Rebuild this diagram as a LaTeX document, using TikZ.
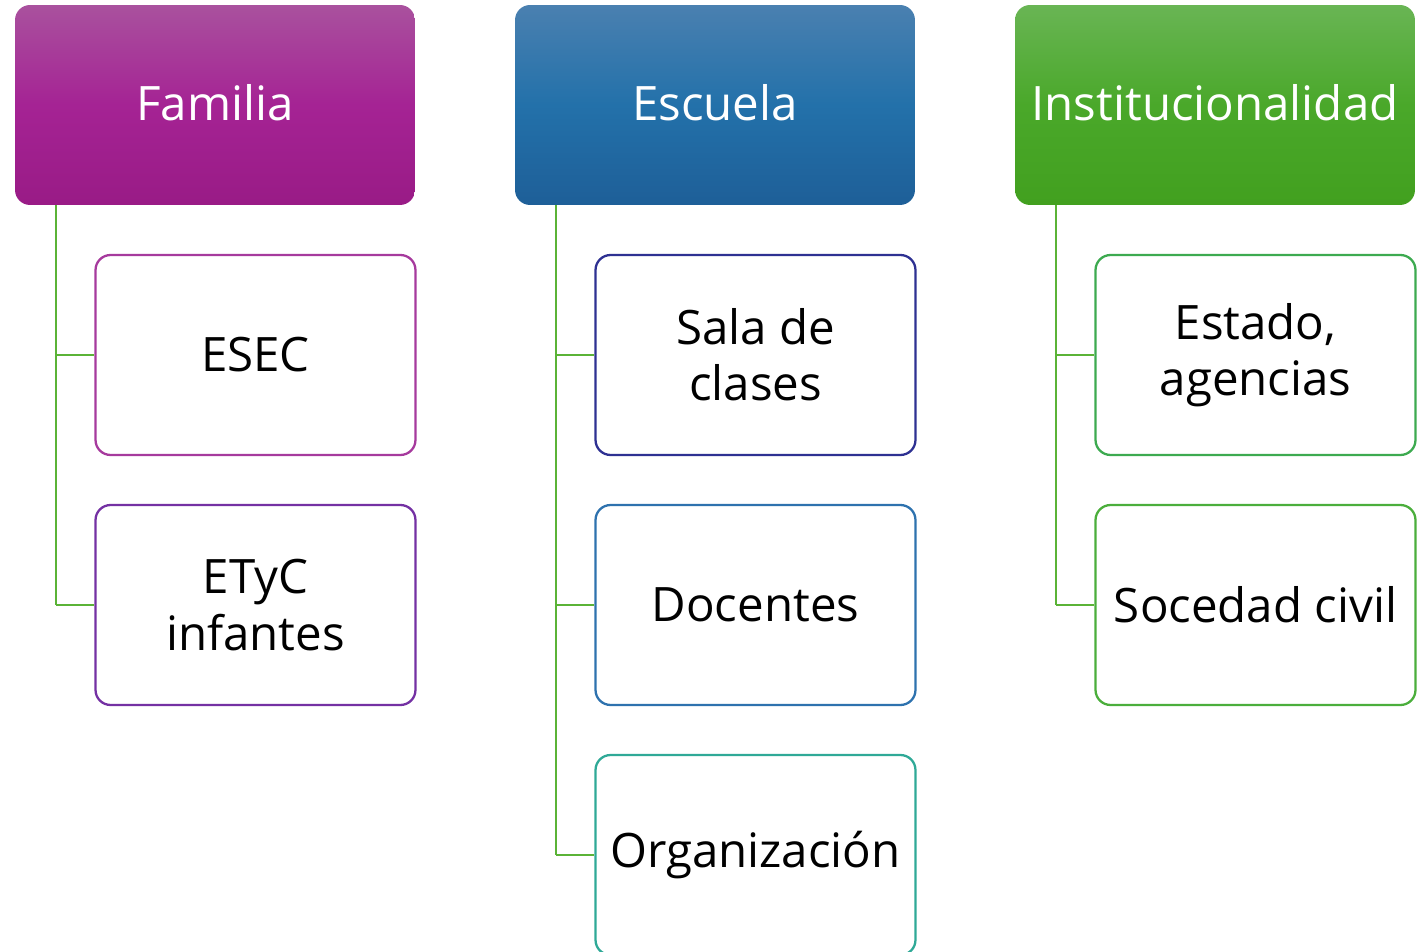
\documentclass[tikz,border=0pt]{standalone}
\usepackage{fontspec}
\setmainfont{Open Sans}
\definecolor{famT}{HTML}{A9519E}
\definecolor{famM}{HTML}{A52394}
\definecolor{famB}{HTML}{991B86}
\definecolor{escT}{HTML}{4A80B0}
\definecolor{escM}{HTML}{2371AA}
\definecolor{escB}{HTML}{1E5F98}
\definecolor{insT}{HTML}{69B554}
\definecolor{insM}{HTML}{4AA82A}
\definecolor{insB}{HTML}{42A01F}
\definecolor{linkc}{HTML}{5BB337}
\definecolor{cEsec}{HTML}{A63A9D}
\definecolor{cEtyc}{HTML}{7431A3}
\definecolor{cSala}{HTML}{2E3192}
\definecolor{cDoc}{HTML}{2E72AE}
\definecolor{cOrg}{HTML}{2FA997}
\definecolor{cEst}{HTML}{3DAA50}
\definecolor{cSoc}{HTML}{4BAE3C}
\begin{document}
\begin{tikzpicture}[x=0.02cm,y=-0.02cm,
  header/.style={rounded corners=0.3cm, minimum width=8cm, minimum height=4cm,
    inner sep=0pt, text=white, font=\fontsize{27}{32}\selectfont, shading=axis, shading angle=0},
  child/.style={draw, line width=1.3pt, rounded corners=0.3cm, fill=white,
    minimum width=6.4cm, minimum height=4cm, inner sep=0pt, align=center,
    font=\fontsize{27}{32}\selectfont},
  link/.style={draw=linkc, line width=1.3pt}]
\useasboundingbox (0,0) rectangle (1427,952);
% headers
\node[header, top color=famT, bottom color=famB, middle color=famM] (fam) at (215,105) {\raisebox{3pt}{Familia}};
\node[header, top color=escT, bottom color=escB, middle color=escM] (esc) at (715,105) {\raisebox{3pt}{Escuela}};
\node[header, top color=insT, bottom color=insB, middle color=insM] (ins) at (1215,105) {\raisebox{3pt}{Institucionalidad}};
% children
\node[child, draw=cEsec] (esec) at (255.5,355) {ESEC};
\node[child, draw=cEtyc] (etyc) at (255.5,605) {ETyC\\infantes};
\node[child, draw=cSala] (sala) at (755.5,355) {Sala de\\clases};
\node[child, draw=cDoc] (doc) at (755.5,605) {Docentes};
\node[child, draw=cOrg] (org) at (755.5,855) {Organización};
\node[child, draw=cEst] (est) at (1255.5,355) {Estado,\\agencias};
\node[child, draw=cSoc] (soc) at (1255.5,605) {Socedad civil};
% connectors
\coordinate (fa) at (56,205);
\coordinate (ea) at (556,205);
\coordinate (ia) at (1056,205);
\draw[link] (fa) -- (fa |- etyc.west);
\draw[link] (fa |- esec.west) -- (esec.west);
\draw[link] (fa |- etyc.west) -- (etyc.west);
\draw[link] (ea) -- (ea |- org.west);
\draw[link] (ea |- sala.west) -- (sala.west);
\draw[link] (ea |- doc.west) -- (doc.west);
\draw[link] (ea |- org.west) -- (org.west);
\draw[link] (ia) -- (ia |- soc.west);
\draw[link] (ia |- est.west) -- (est.west);
\draw[link] (ia |- soc.west) -- (soc.west);
\end{tikzpicture}
\end{document}
